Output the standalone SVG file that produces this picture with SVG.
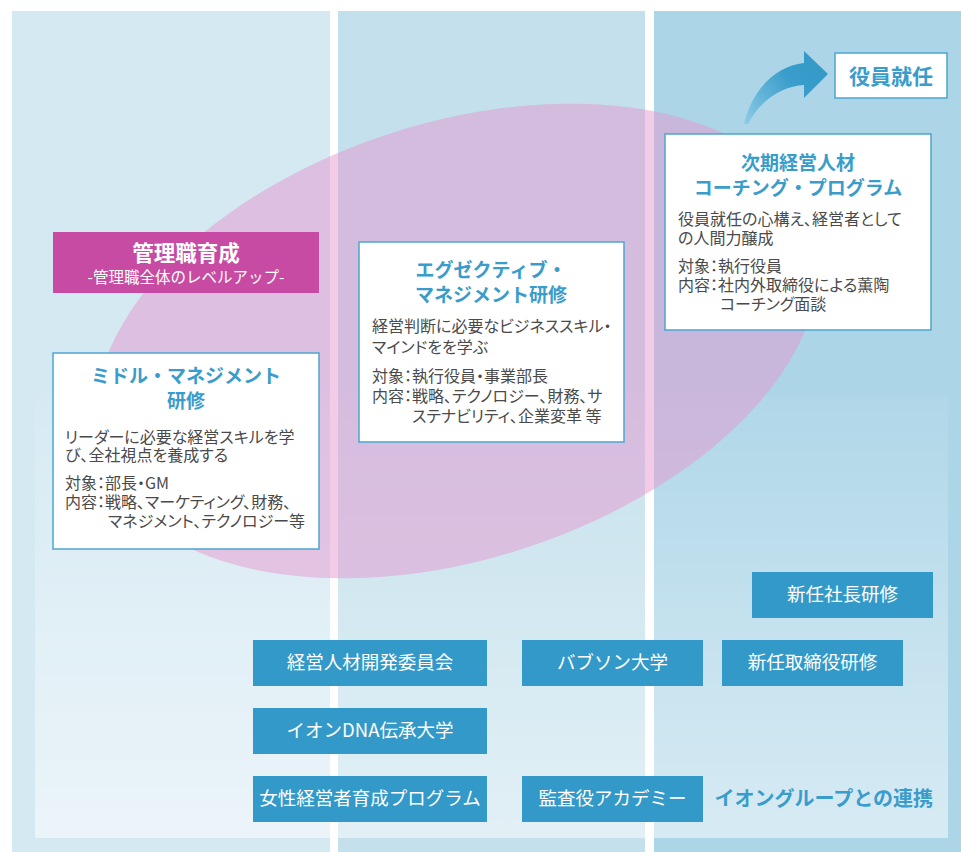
<svg xmlns="http://www.w3.org/2000/svg" width="961" height="852" viewBox="0 0 961 852">
<defs>
<style>
text{font-family:"Noto Sans CJK JP","Noto Sans",sans-serif}
.body{font-size:16px;fill:#4a4a4a;font-feature-settings:"palt"}
.ttl{font-size:19px;font-weight:bold;fill:#3a9ccb;text-anchor:middle}
.card{fill:#ffffff;stroke:#4ea5d0;stroke-width:1.5}
.btn{fill:#3399c8}
.btxt{font-size:18.5px;fill:#ffffff;text-anchor:middle}
</style>
<linearGradient id="fade" x1="0" y1="0" x2="0" y2="1">
<stop offset="0" stop-color="#ffffff" stop-opacity="0.05"/>
<stop offset="1" stop-color="#ffffff" stop-opacity="0.52"/>
</linearGradient>
<linearGradient id="arr" x1="745" y1="124" x2="828" y2="60" gradientUnits="userSpaceOnUse">
<stop offset="0" stop-color="#8ccbe6"/>
<stop offset="0.6" stop-color="#3a9dcb"/>
<stop offset="1" stop-color="#3399c8"/>
</linearGradient>
</defs>
<rect width="961" height="852" fill="#ffffff"/>
<g id="background">
<rect x="12" y="11" width="318" height="841" fill="#d5e9f3"/>
<rect x="338" y="11" width="307" height="841" fill="#c3e0ec"/>
<rect x="654" y="11" width="307" height="841" fill="#acd5e7"/>
<rect x="35" y="395" width="913" height="443" fill="url(#fade)"/>
<ellipse cx="457" cy="341" rx="374" ry="218" transform="rotate(-18 457 341)" fill="#e597cf" opacity="0.5"/>
</g>
<g id="connectors">
<path d="M744 124 C752 90 775 66 804 63 L804 51 L828 74 L804 98 L804 85 C783 86 760 100 748 124 Z" fill="url(#arr)"/>
</g>
<g id="node-yakuin">
<rect x="835" y="53" width="112" height="45" class="card"/>
<text x="891" y="84" style="font-size:21px;font-weight:bold;fill:#3a9ccb;text-anchor:middle">役員就任</text>
</g>
<g id="node-kanrishoku">
<rect x="53" y="232" width="266" height="61" fill="#c84ba3"/>
<text x="186" y="261" style="font-size:21.5px;font-weight:bold;fill:#ffffff;text-anchor:middle">管理職育成</text>
<text x="186" y="283" style="font-size:15.5px;fill:#ffffff;text-anchor:middle">-管理職全体のレベルアップ-</text>
</g>
<g id="node-middle">
<rect x="53" y="353" width="266" height="196" class="card"/>
<text x="186" y="383" class="ttl">ミドル・マネジメント</text>
<text x="186" y="408" class="ttl">研修</text>
<text x="65" y="443" class="body">リーダーに必要な経営スキルを学</text>
<text x="65" y="461" class="body">び、全社視点を養成する</text>
<text x="65" y="489" class="body">対象：部長・GM</text>
<text x="65" y="508" class="body">内容：戦略、マーケティング、財務、</text>
<text x="108" y="527" class="body">マネジメント、テクノロジー等</text>
</g>
<g id="node-executive">
<rect x="359" y="242" width="265" height="200" class="card"/>
<text x="491" y="277" class="ttl">エグゼクティブ・</text>
<text x="491" y="302" class="ttl">マネジメント研修</text>
<text x="372" y="332" class="body">経営判断に必要なビジネススキル・</text>
<text x="372" y="353" class="body">マインドをを学ぶ</text>
<text x="372" y="382" class="body">対象：執行役員・事業部長</text>
<text x="372" y="402" class="body">内容：戦略、テクノロジー、財務、サ</text>
<text x="412" y="422" class="body">ステナビリティ、企業変革 等</text>
</g>
<g id="node-coaching">
<rect x="665" y="134" width="266" height="196" class="card"/>
<text x="798" y="170" class="ttl">次期経営人材</text>
<text x="798" y="195" class="ttl">コーチング・プログラム</text>
<text x="678" y="225" class="body">役員就任の心構え、経営者として</text>
<text x="678" y="244" class="body">の人間力醸成</text>
<text x="678" y="272" class="body">対象：執行役員</text>
<text x="678" y="291" class="body">内容：社内外取締役による薫陶</text>
<text x="720" y="310" class="body">コーチング面談</text>
</g>
<g id="node-shinnin-shacho">
<rect x="752" y="572" width="181" height="46" class="btn"/>
<text x="842.5" y="601" class="btxt">新任社長研修</text>
</g>
<g id="node-keiei-iinkai">
<rect x="253" y="640" width="234" height="46" class="btn"/>
<text x="370" y="669" class="btxt">経営人材開発委員会</text>
</g>
<g id="node-babson">
<rect x="522" y="640" width="181" height="46" class="btn"/>
<text x="612.5" y="669" class="btxt">バブソン大学</text>
</g>
<g id="node-torishimariyaku">
<rect x="722" y="640" width="181" height="46" class="btn"/>
<text x="812.5" y="669" class="btxt">新任取締役研修</text>
</g>
<g id="node-dna">
<rect x="253" y="708" width="234" height="46" class="btn"/>
<text x="370" y="737" class="btxt">イオンDNA伝承大学</text>
</g>
<g id="node-josei">
<rect x="253" y="776" width="234" height="46" class="btn"/>
<text x="370" y="805" class="btxt">女性経営者育成プログラム</text>
</g>
<g id="node-kansayaku">
<rect x="522" y="776" width="181" height="46" class="btn"/>
<text x="612.5" y="805" class="btxt">監査役アカデミー</text>
</g>
<g id="label-renkei">
<text x="933" y="806" style="font-size:20px;font-weight:bold;fill:#3a9ccb;text-anchor:end">イオングループとの連携</text>
</g>
</svg>
